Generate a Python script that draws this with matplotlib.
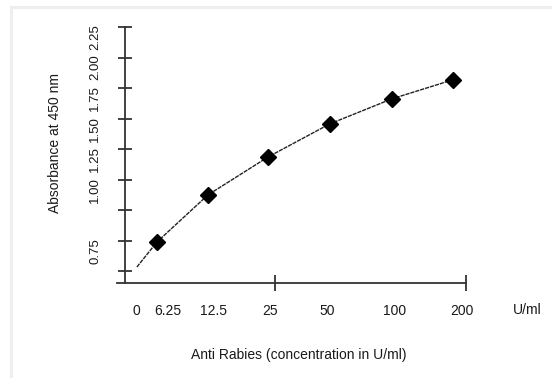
import matplotlib
matplotlib.use("Agg")
import matplotlib.pyplot as plt
import matplotlib.transforms as mtransforms
from matplotlib.patches import Rectangle

plt.rcParams['font.family'] = ['Liberation Sans', 'DejaVu Sans']

# concentrations (U/ml) and where they sit on the drawn (log-like) axis
conc = [6.25, 12.5, 25, 50, 100, 200]
conc_pos = [0.0, 0.86, 1.88, 2.92, 3.97, 5.0]
absorb = [0.49, 0.875, 1.187, 1.457, 1.662, 1.818]

# fitted curve as drawn (starts left of the first point)
curve_x = [-0.34, 0.0, 0.86, 1.88, 2.92, 3.97, 5.0]
curve_y = [0.285, 0.49, 0.875, 1.187, 1.457, 1.662, 1.818]

# axis labels
x_labels = ['0', '6.25', '12.5', '25', '50', '100', '200']
x_label_pos = [-0.355, 0.186, 0.946, 1.909, 2.872, 4.02, 5.15]
y_ticks = [0.25, 0.5, 0.75, 1.0, 1.25, 1.5, 1.75, 2.0, 2.25]
y_labels = ['', '0.75', '', '1.00', '1.25', '1.50', '1.75', '2.00', '2.25']

W, H = 552, 378
fig = plt.figure(figsize=(W / 100, H / 100), dpi=100)

# light page border
fig.patches.append(Rectangle((11 / W, -0.1), 1.2, (H - 6.5) / H + 0.1,
                             transform=fig.transFigure, fill=False,
                             edgecolor='#eeeeee', linewidth=2.2))

ax = fig.add_axes([117 / W, 95 / H, (466 - 117) / W, (283 - 27) / H])
ax.set_xlim(-0.676, 5.22)
ax.set_ylim(0.154, 2.25)

axc = '#333333'
txt = '#1a1a1a'
for s in ['top', 'right']:
    ax.spines[s].set_visible(False)
ax.spines['left'].set_position(('data', -0.54))
ax.spines['left'].set_color(axc)
ax.spines['bottom'].set_color(axc)
ax.spines['left'].set_linewidth(1.3)
ax.spines['bottom'].set_linewidth(1.3)

ax.plot(curve_x, curve_y, color='#222222', linewidth=1.0,
        linestyle=(0, (3, 0.7)), clip_on=False)
ax.plot(conc_pos, absorb, linestyle='none', marker='D', markersize=8.5,
        color='black', clip_on=False)

# x ticks: marks only at two places, labels on zero-length minor ticks
ax.set_xticks([1.995, 5.22])
ax.set_xticklabels(['', ''])
ax.tick_params(axis='x', which='major', direction='inout', length=11,
               width=1.3, color=axc)
ax.set_xticks(x_label_pos, minor=True)
ax.set_xticklabels(x_labels, minor=True)
ax.tick_params(axis='x', which='minor', length=0, pad=15, labelsize=10,
               labelcolor=txt)

ax.set_yticks(y_ticks)
ax.set_yticklabels(y_labels, rotation=90, va='center', ha='right',
                   fontsize=9.5, color=txt)
ax.tick_params(axis='y', direction='inout', length=10, width=1.3, color=axc,
               pad=12)
shift = mtransforms.ScaledTranslation(0, -10 / 100, fig.dpi_scale_trans)
for lab in ax.get_yticklabels():
    lab.set_transform(lab.get_transform() + shift)

fig.text(527 / W, 1 - 310 / H, 'U/ml', fontsize=10,
         ha='center', va='center', color=txt)
fig.text(299 / W, 1 - 355 / H, 'Anti Rabies (concentration in U/ml)',
         fontsize=10, ha='center', va='center', color=txt)
fig.text(55 / W, 1 - 143 / H, 'Absorbance at 450 nm', fontsize=10,
         rotation=90, ha='center', va='center', color=txt)

fig.savefig('out.png', dpi=100, facecolor='white')
